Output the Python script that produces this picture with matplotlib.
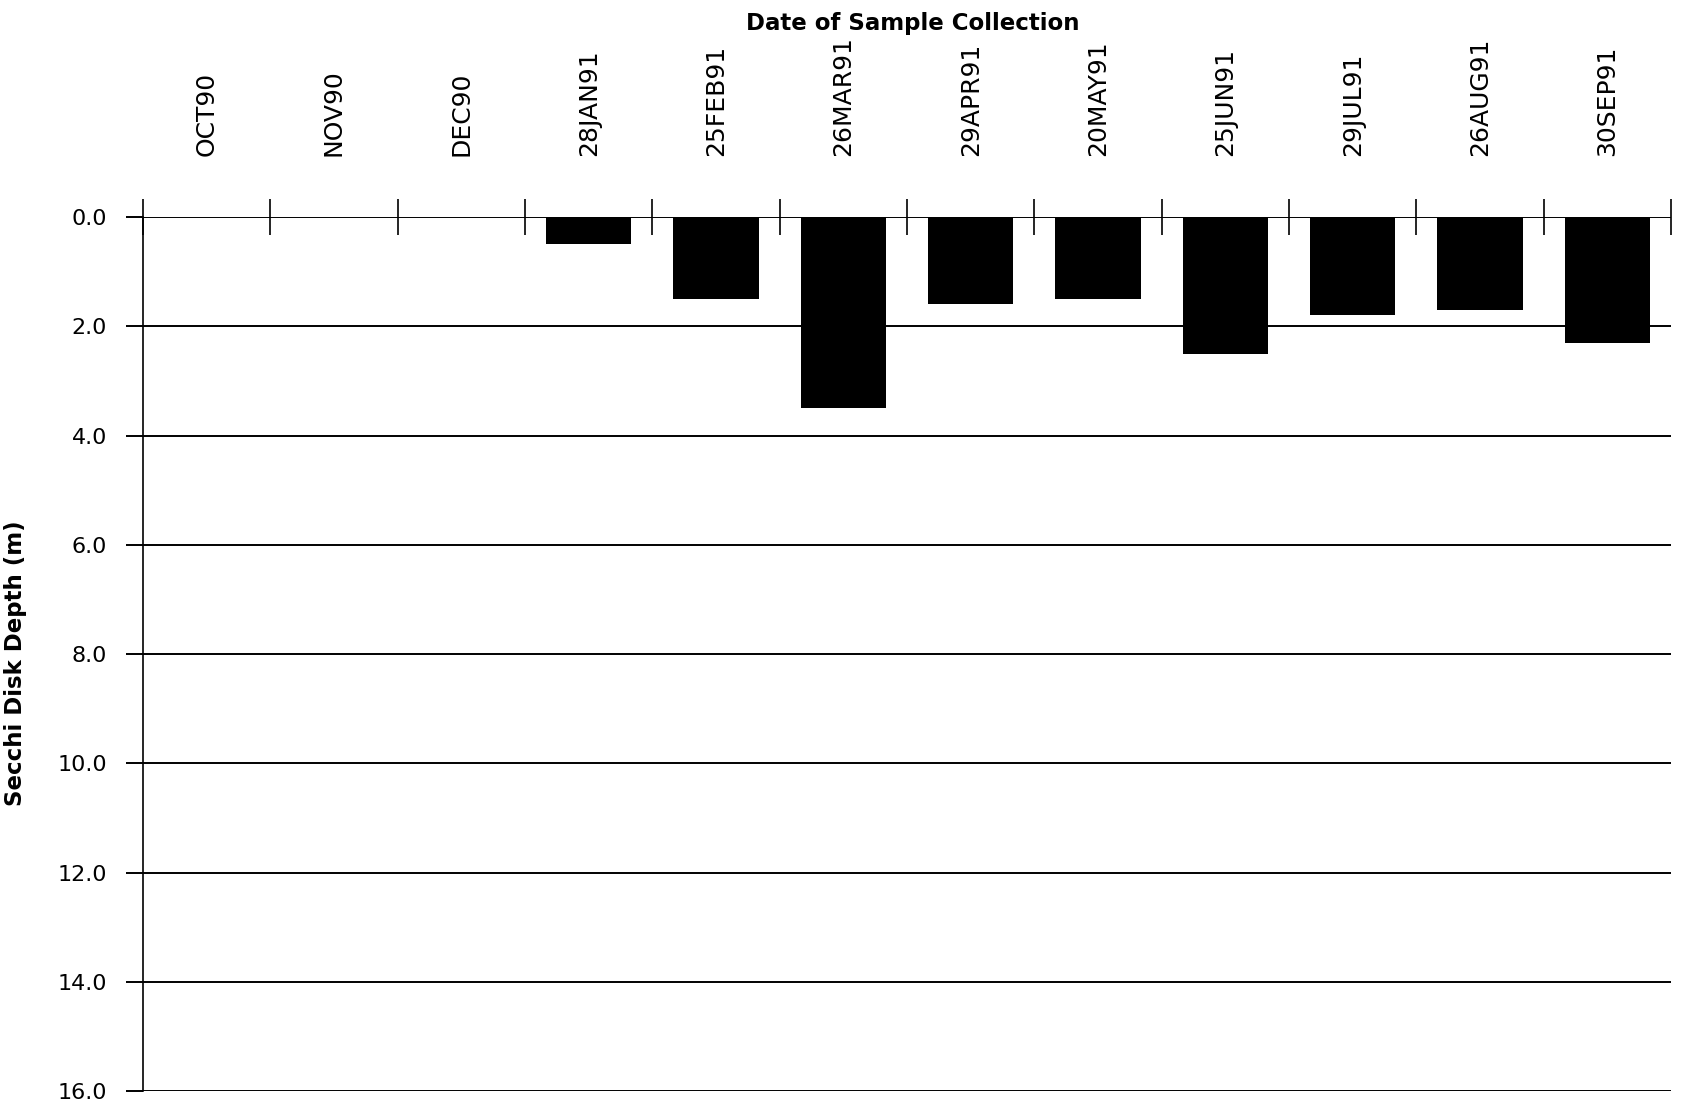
import numpy as np
import matplotlib
matplotlib.use("Agg")
import matplotlib.pyplot as plt

# sample dates and Secchi disk depths (m); no reading for the first three months
dates = ["OCT90", "NOV90", "DEC90", "28JAN91", "25FEB91", "26MAR91",
         "29APR91", "20MAY91", "25JUN91", "29JUL91", "26AUG91", "30SEP91"]
depth = [np.nan, np.nan, np.nan, 0.5, 1.5, 3.5, 1.6, 1.5, 2.5, 1.8, 1.7, 2.3]
y_ticks = [0, 2, 4, 6, 8, 10, 12, 14, 16]

plt.rcParams["font.family"] = "DejaVu Sans"

fig = plt.figure(figsize=(16.84, 11.09), dpi=100)
ax = fig.add_axes([0.0849, 0.0162, 0.9074, 0.7881])

x = np.arange(len(dates))
ax.bar(x, depth, width=0.67, color="black", zorder=3)

ax.set_xlim(-0.5, len(dates) - 0.5)
ax.set_ylim(16, 0)

# horizontal grid
ax.set_yticks(y_ticks)
ax.set_yticklabels([f"{v:.1f}" for v in y_ticks], fontsize=16)
ax.yaxis.grid(True, color="black", linewidth=1.4, zorder=1)
ax.tick_params(axis="y", length=12, width=1.4, pad=14)

# category boundaries as ticks crossing the zero line, labels at the centres on top
ax.xaxis.tick_top()
ax.set_xticks(np.arange(len(dates) + 1) - 0.5)
ax.set_xticklabels([])
ax.tick_params(axis="x", which="major", direction="inout", length=26, width=1.2)
ax.set_xticks(x, minor=True)
ax.set_xticklabels(dates, minor=True, rotation=90, fontsize=18)
ax.tick_params(axis="x", which="minor", length=0, pad=44)

for s in ["right", "bottom", "top"]:
    ax.spines[s].set_visible(False)
ax.spines["left"].set_linewidth(1.2)

ax.set_ylabel("Secchi Disk Depth (m)", fontsize=16.5, fontweight="bold")
ax.yaxis.set_label_coords(-0.076, 0.49)
fig.text(0.542, 0.979, "Date of Sample Collection", ha="center", va="center",
         fontsize=16.5, fontweight="bold")

fig.savefig("out.png", dpi=100)
